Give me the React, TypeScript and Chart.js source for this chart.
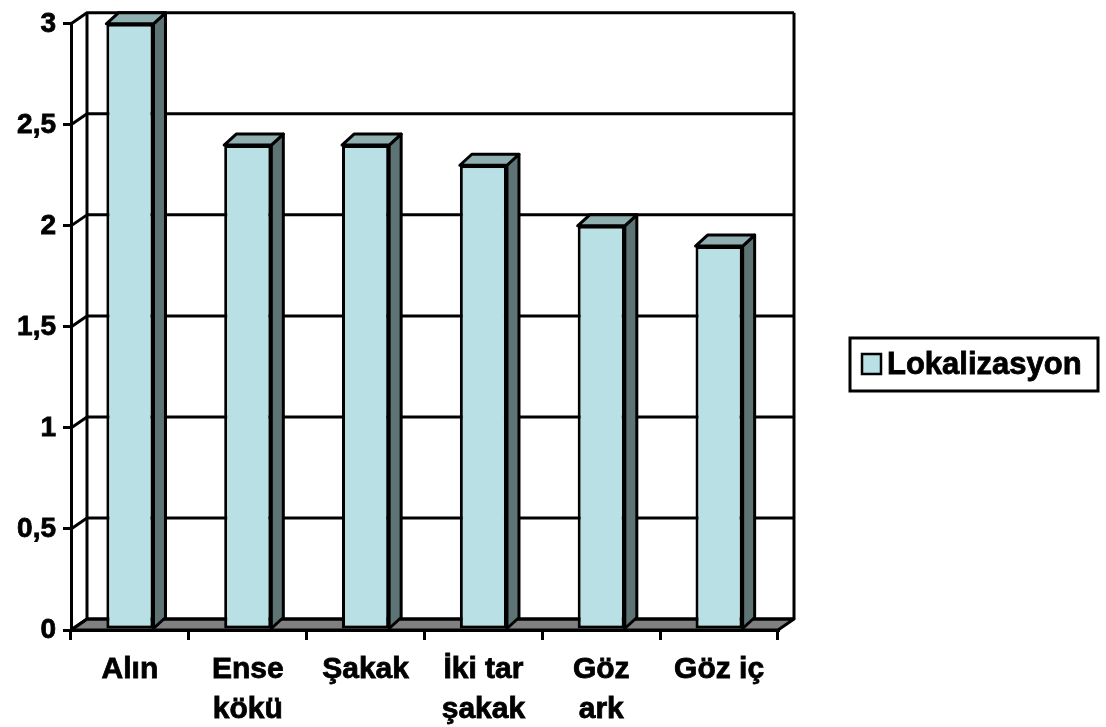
import { useEffect, useRef } from "react";
import { Chart, registerables } from "chart.js";

Chart.register(...registerables);

// Category labels (multi-line where the label wraps)
const categories: string[][] = [
  ["Alın"],
  ["Ense", "kökü"],
  ["Şakak"],
  ["İki tar", "şakak"],
  ["Göz", "ark"],
  ["Göz iç"],
];

const seriesLabel = "Lokalizasyon";
const seriesValues = [3, 2.4, 2.4, 2.3, 2, 1.9];

const yMin = 0;
const yMax = 3;
const yStep = 0.5;

const FONT = "'Liberation Sans', Arial, sans-serif";

// 3D styling
const LINE = 3;
const WALL_DX = 16;
const WALL_DY = 11;
const BAR_DX = 12;
const BAR_DY = 11;
const FRONT_COLOR = "#B9E0E4";
const TOP_COLOR = "#8FAFB0";
const SIDE_COLOR = "#5E7374";
const FLOOR_COLOR = "#808080";

const poly = (ctx: CanvasRenderingContext2D, pts: number[][], fill?: string) => {
  ctx.beginPath();
  ctx.moveTo(pts[0][0], pts[0][1]);
  for (let i = 1; i < pts.length; i++) ctx.lineTo(pts[i][0], pts[i][1]);
  ctx.closePath();
  if (fill) {
    ctx.fillStyle = fill;
    ctx.fill();
  }
  ctx.stroke();
};

const threeD = {
  id: "threeD",
  beforeDatasetsDraw(chart: any) {
    const { ctx, chartArea } = chart;
    const { left, right, top, bottom } = chartArea;
    const y = chart.scales.y;
    ctx.save();
    ctx.lineWidth = LINE;
    ctx.strokeStyle = "#000";
    ctx.lineJoin = "round";

    // floor
    poly(
      ctx,
      [
        [left, bottom],
        [right, bottom],
        [right + WALL_DX, bottom - WALL_DY],
        [left + WALL_DX, bottom - WALL_DY],
      ],
      FLOOR_COLOR
    );

    // side-wall diagonals and back-wall grid lines
    y.ticks.forEach((t: any) => {
      const py = y.getPixelForValue(t.value);
      ctx.beginPath();
      ctx.moveTo(left, py);
      ctx.lineTo(left + WALL_DX, py - WALL_DY);
      ctx.lineTo(right + WALL_DX, py - WALL_DY);
      ctx.stroke();
    });

    // back-wall edges
    ctx.beginPath();
    ctx.moveTo(left + WALL_DX, top - WALL_DY);
    ctx.lineTo(left + WALL_DX, bottom - WALL_DY);
    ctx.moveTo(right + WALL_DX, top - WALL_DY);
    ctx.lineTo(right + WALL_DX, bottom - WALL_DY);
    ctx.stroke();
    ctx.restore();
  },
  afterDatasetsDraw(chart: any) {
    const { ctx } = chart;
    const meta = chart.getDatasetMeta(0);
    ctx.save();
    ctx.lineWidth = LINE;
    ctx.strokeStyle = "#000";
    ctx.lineJoin = "round";
    meta.data.forEach((bar: any) => {
      const { x, y, width, base } = bar.getProps(["x", "y", "width", "base"], true);
      const l = x - width / 2;
      const r = x + width / 2;
      // side face
      poly(
        ctx,
        [
          [r, y],
          [r + BAR_DX, y - BAR_DY],
          [r + BAR_DX, base - BAR_DY],
          [r, base],
        ],
        SIDE_COLOR
      );
      // top face
      poly(
        ctx,
        [
          [l, y],
          [l + BAR_DX, y - BAR_DY],
          [r + BAR_DX, y - BAR_DY],
          [r, y],
        ],
        TOP_COLOR
      );
    });
    ctx.restore();
  },
  afterDraw(chart: any) {
    // boxed legend on the right
    const { ctx } = chart;
    const label = chart.data.datasets[0].label;
    ctx.save();
    ctx.lineWidth = LINE;
    ctx.strokeStyle = "#000";
    ctx.fillStyle = "#fff";
    ctx.fillRect(850, 338, 248, 53);
    ctx.strokeRect(850, 338, 248, 53);
    ctx.fillStyle = FRONT_COLOR;
    ctx.fillRect(862, 354, 19, 20);
    ctx.lineWidth = 2.5;
    ctx.strokeRect(862, 354, 19, 20);
    ctx.fillStyle = "#000";
    ctx.font = `bold 31px ${FONT}`;
    ctx.textBaseline = "middle";
    ctx.textAlign = "left";
    ctx.lineWidth = 0.8;
    ctx.strokeText(label, 887, 365);
    ctx.fillText(label, 887, 365);
    ctx.restore();
  },
};

export default function App() {
  const canvasRef = useRef<HTMLCanvasElement | null>(null);

  useEffect(() => {
    if (!canvasRef.current) return;
    const chart = new Chart(canvasRef.current, {
      type: "bar",
      data: {
        labels: categories,
        datasets: [
          {
            label: seriesLabel,
            data: seriesValues,
            backgroundColor: FRONT_COLOR,
            borderColor: "#000",
            borderWidth: LINE,
            borderSkipped: false,
            barPercentage: 0.4,
            categoryPercentage: 1,
          },
        ],
      },
      plugins: [threeD],
      options: {
        animation: false,
        responsive: false,
        events: [],
        layout: { padding: { top: 20, right: 328, bottom: 0, left: 0 } },
        plugins: {
          legend: { display: false },
          tooltip: { enabled: false },
        },
        scales: {
          x: {
            afterFit: (scale: any) => {
              scale.height = 97;
            },
            grid: {
              display: true,
              drawOnChartArea: false,
              drawTicks: true,
              tickLength: 10,
              offset: true,
              color: "#000",
              lineWidth: LINE,
            },
            border: { display: true, color: "#000", width: LINE },
            ticks: {
              autoSkip: false,
              maxRotation: 0,
              padding: 10,
              color: "#000",
              textStrokeColor: "#000",
              textStrokeWidth: 0.8,
              font: { family: FONT, size: 30, weight: "bold", lineHeight: 1.32 },
            },
          },
          y: {
            min: yMin,
            max: yMax,
            afterFit: (scale: any) => {
              scale.width = 71;
            },
            grid: {
              display: true,
              drawOnChartArea: false,
              drawTicks: true,
              tickLength: 8,
              color: "#000",
              lineWidth: LINE,
            },
            border: { display: true, color: "#000", width: LINE },
            ticks: {
              stepSize: yStep,
              padding: 7,
              color: "#000",
              textStrokeColor: "#000",
              textStrokeWidth: 0.8,
              font: { family: FONT, size: 28, weight: "bold" },
              callback: (v: any) => String(v).replace(".", ","),
            },
          },
        },
      } as any,
    });
    return () => chart.destroy();
  }, []);

  return (
    <div style={{ position: "absolute", left: 0, top: 0, width: 1106, height: 727, background: "#fff" }}>
      <canvas ref={canvasRef} width={1106} height={727} style={{ display: "block" }} />
    </div>
  );
}
